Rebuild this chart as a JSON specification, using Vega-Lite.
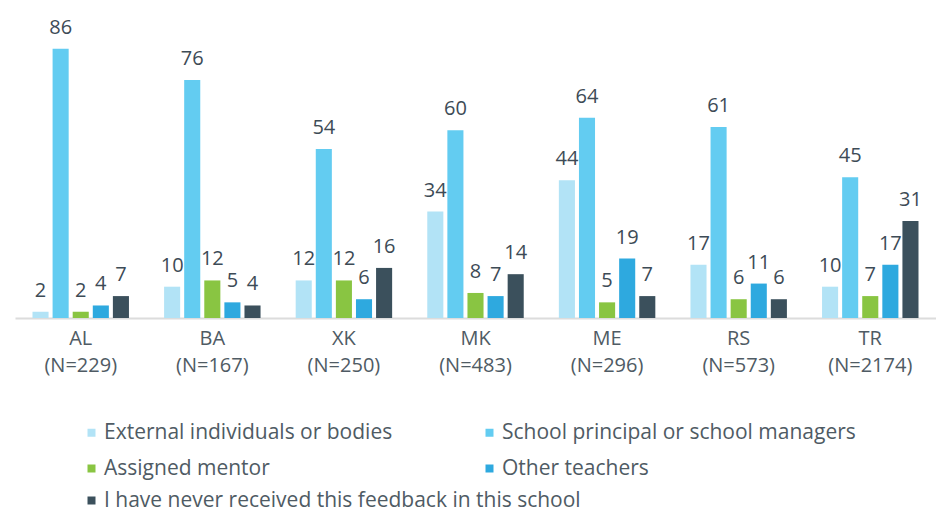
{
  "$schema": "https://vega.github.io/schema/vega-lite/v6.json",
  "width": 921,
  "height": 313,
  "autosize": "none",
  "padding": {"left": 15, "top": 5, "right": 0, "bottom": 195},
  "background": "white",
  "config": {
    "view": {"stroke": null},
    "font": "Open Sans"
  },
  "data": {
    "values": [
      {"c": "AL|(N=229)", "s": "External individuals or bodies", "v": 2},
      {"c": "AL|(N=229)", "s": "School principal or school managers", "v": 86},
      {"c": "AL|(N=229)", "s": "Assigned mentor", "v": 2},
      {"c": "AL|(N=229)", "s": "Other teachers", "v": 4},
      {"c": "AL|(N=229)", "s": "I have never received this feedback in this school", "v": 7},
      {"c": "BA|(N=167)", "s": "External individuals or bodies", "v": 10},
      {"c": "BA|(N=167)", "s": "School principal or school managers", "v": 76},
      {"c": "BA|(N=167)", "s": "Assigned mentor", "v": 12},
      {"c": "BA|(N=167)", "s": "Other teachers", "v": 5},
      {"c": "BA|(N=167)", "s": "I have never received this feedback in this school", "v": 4},
      {"c": "XK|(N=250)", "s": "External individuals or bodies", "v": 12},
      {"c": "XK|(N=250)", "s": "School principal or school managers", "v": 54},
      {"c": "XK|(N=250)", "s": "Assigned mentor", "v": 12},
      {"c": "XK|(N=250)", "s": "Other teachers", "v": 6},
      {"c": "XK|(N=250)", "s": "I have never received this feedback in this school", "v": 16},
      {"c": "MK|(N=483)", "s": "External individuals or bodies", "v": 34},
      {"c": "MK|(N=483)", "s": "School principal or school managers", "v": 60},
      {"c": "MK|(N=483)", "s": "Assigned mentor", "v": 8},
      {"c": "MK|(N=483)", "s": "Other teachers", "v": 7},
      {"c": "MK|(N=483)", "s": "I have never received this feedback in this school", "v": 14},
      {"c": "ME|(N=296)", "s": "External individuals or bodies", "v": 44},
      {"c": "ME|(N=296)", "s": "School principal or school managers", "v": 64},
      {"c": "ME|(N=296)", "s": "Assigned mentor", "v": 5},
      {"c": "ME|(N=296)", "s": "Other teachers", "v": 19},
      {"c": "ME|(N=296)", "s": "I have never received this feedback in this school", "v": 7},
      {"c": "RS|(N=573)", "s": "External individuals or bodies", "v": 17},
      {"c": "RS|(N=573)", "s": "School principal or school managers", "v": 61},
      {"c": "RS|(N=573)", "s": "Assigned mentor", "v": 6},
      {"c": "RS|(N=573)", "s": "Other teachers", "v": 11},
      {"c": "RS|(N=573)", "s": "I have never received this feedback in this school", "v": 6},
      {"c": "TR|(N=2174)", "s": "External individuals or bodies", "v": 10},
      {"c": "TR|(N=2174)", "s": "School principal or school managers", "v": 45},
      {"c": "TR|(N=2174)", "s": "Assigned mentor", "v": 7},
      {"c": "TR|(N=2174)", "s": "Other teachers", "v": 17},
      {"c": "TR|(N=2174)", "s": "I have never received this feedback in this school", "v": 31}
    ]
  },
  "encoding": {
    "x": {
      "field": "c", "type": "nominal", "sort": null, "title": null,
      "scale": {"paddingInner": 0.267, "paddingOuter": 0.133},
      "axis": {
        "labelAngle": 0, "ticks": false, "domainColor": "#dcdcdc", "domainWidth": 2,
        "labelExpr": "split(datum.label, '|')", "labelFontSize": 20, "labelColor": "#4f5b64",
        "labelLineHeight": 27, "labelPadding": 10, "labelFont": "Open Sans"
      }
    },
    "xOffset": {
      "field": "s", "type": "nominal",
      "scale": {
        "domain": ["External individuals or bodies", "School principal or school managers", "Assigned mentor", "Other teachers", "I have never received this feedback in this school"],
        "paddingInner": 0.2, "paddingOuter": 0
      }
    },
    "y": {
      "field": "v", "type": "quantitative", "title": null,
      "scale": {"domain": [0, 100], "nice": false, "zero": true},
      "axis": null
    }
  },
  "layer": [
    {
      "transform": [{"filter": "datum.s != 'I have never received this feedback in this school'"}],
      "mark": {"type": "bar"},
      "encoding": {
        "color": {
          "field": "s", "type": "nominal",
          "scale": {
            "domain": ["External individuals or bodies", "School principal or school managers", "Assigned mentor", "Other teachers"],
            "range": ["#b2e3f6", "#63ccf1", "#89c542", "#2ea9df"]
          },
          "legend": {
            "orient": "none", "legendX": 66, "legendY": 417, "columns": 2, "direction": "horizontal", "title": null,
            "symbolType": "square", "symbolSize": 64, "symbolStrokeWidth": 0,
            "labelFontSize": 21, "labelColor": "#4f5b64", "labelFont": "Open Sans",
            "labelOffset": 2, "rowPadding": 14, "columnPadding": 86, "labelLimit": 600
          }
        }
      }
    },
    {
      "transform": [{"filter": "datum.s == 'I have never received this feedback in this school'"}],
      "mark": {"type": "bar"},
      "encoding": {
        "fill": {
          "field": "s", "type": "nominal",
          "scale": {
            "domain": ["I have never received this feedback in this school"],
            "range": ["#3b505c"]
          },
          "legend": {
            "orient": "none", "legendX": 66, "legendY": 485, "title": null,
            "symbolType": "square", "symbolSize": 64, "symbolStrokeWidth": 0,
            "labelFontSize": 21, "labelColor": "#4f5b64", "labelFont": "Open Sans",
            "labelOffset": 2, "labelLimit": 600
          }
        }
      }
    },
    {
      "mark": {"type": "text", "baseline": "alphabetic", "dy": -15, "fontSize": 20, "color": "#3d4b56", "font": "Open Sans"},
      "encoding": {
        "text": {"field": "v", "type": "quantitative"}
      }
    }
  ]
}
